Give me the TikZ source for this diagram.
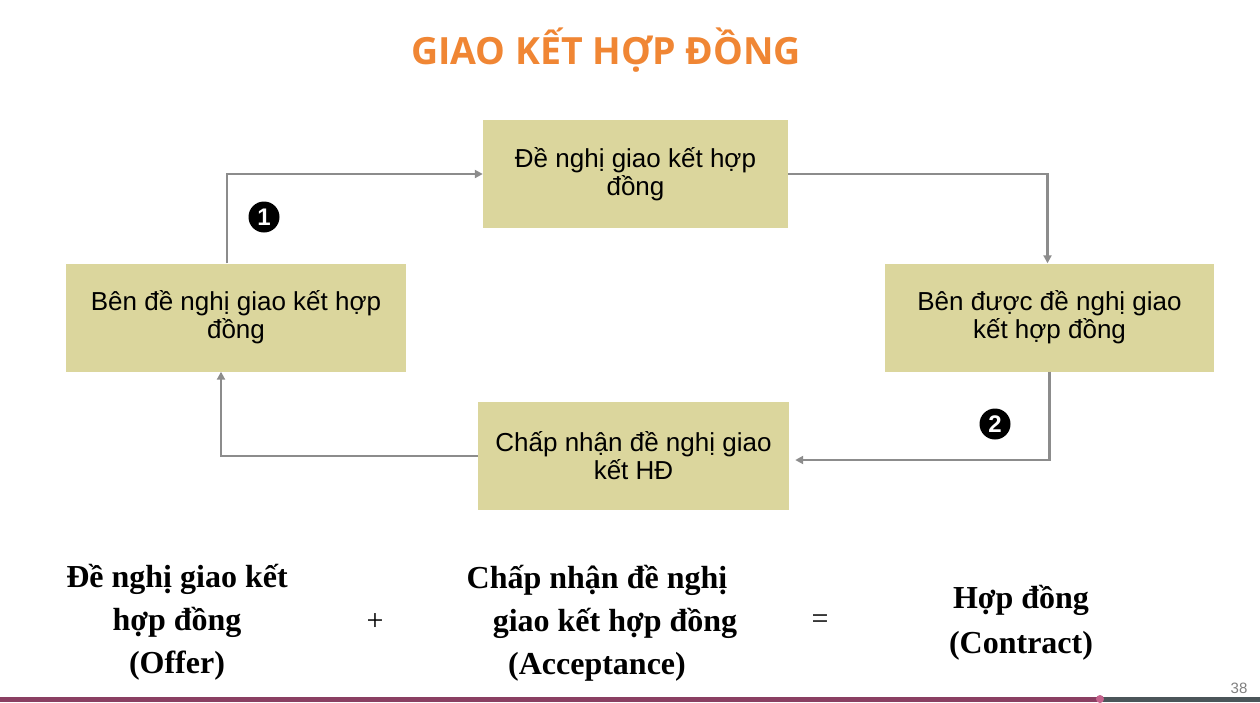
\documentclass[tikz,border=0pt]{standalone}
\usepackage{fontspec}
\setmainfont{Liberation Serif}
\setsansfont{Liberation Sans}
\newfontfamily\titlefont{Open Sans}
\usetikzlibrary{arrows.meta}
\definecolor{boxfill}{RGB}{219,214,157}
\definecolor{linegray}{RGB}{140,140,140}
\definecolor{titleorange}{RGB}{240,134,52}
\definecolor{barred}{RGB}{138,63,98}
\definecolor{bargray}{RGB}{75,85,89}
\definecolor{dotpink}{RGB}{196,98,140}

\tikzset{
  stepbox/.style={fill=boxfill, minimum height=108pt, align=center, inner sep=0pt,
    font=\sffamily\fontsize{26}{28}\selectfont},
  flow/.style={draw=linegray, line width=2.2pt, -{Triangle[length=8pt,width=8pt]}},
  badge/.style={circle, fill=black, text=white, minimum size=31pt, inner sep=0pt,
    font=\sffamily\bfseries\fontsize{24}{24}\selectfont},
  sumtext/.style={align=center, font=\bfseries\fontsize{32}{43}\selectfont},
  optext/.style={font=\fontsize{30}{30}\selectfont}
}

\begin{document}
\begin{tikzpicture}[x=1pt,y=-1pt]
  \fill[white] (0,0) rectangle (1260,702);
  \useasboundingbox (0,0) rectangle (1260,702);

  % title
  \node[font=\titlefont\bfseries\fontsize{37.5}{37.5}\selectfont, text=titleorange] (title) at (606,50) {GIAO KẾT HỢP ĐỒNG};

  % the four boxes
  \node[stepbox, minimum width=305pt] (offer) at (635.5,174) {Đề nghị giao kết hợp\\đồng};
  \node[stepbox, minimum width=340pt] (offeror) at (236,317.5) {Bên đề nghị giao kết hợp\\đồng};
  \node[stepbox, minimum width=329pt] (offeree) at (1049.5,317.5) {Bên được đề nghị giao\\kết hợp đồng};
  \node[stepbox, minimum width=311pt] (accept) at (633.5,456) {Chấp nhận đề nghị giao\\kết HĐ};

  % cycle
  \draw[flow] ([xshift=-9pt]offeror.north) |- (offer.west);
  \draw[flow] (offer.east) -| ([xshift=-2pt]offeree.north);
  \draw[flow] (offeree.south) |- ([xshift=6pt,yshift=-4pt]accept.east);
  \draw[flow] (accept.west) -| ([xshift=-15pt]offeror.south);

  \node[badge] (one) at (264,217) {1};
  \node[badge] (two) at (995,424) {2};

  % offer + acceptance = contract
  \node[sumtext] (offertxt) at (177,622) {Đề nghị giao kết\\hợp đồng\\(Offer)};
  \node[optext] (plus) at (375,622) {+};
  \node[sumtext] (accepttxt) at (597,623) {Chấp nhận đề nghị\\\hspace*{36pt}giao kết hợp đồng\\(Acceptance)};
  \node[optext] (equals) at (820,622) {=};
  \node[sumtext, font=\bfseries\fontsize{32}{45}\selectfont] (contract) at (1021,623) {Hợp đồng\\(Contract)};

  % slide footer
  \node[font=\sffamily\fontsize{15}{15}\selectfont, text=gray] (page) at (1239,688) {38};
  \fill[barred] (0,697) rectangle (1100,702);
  \fill[bargray] (1100,697) rectangle (1260,702);
  \fill[dotpink] (1100,699) circle (4pt);
\end{tikzpicture}
\end{document}
